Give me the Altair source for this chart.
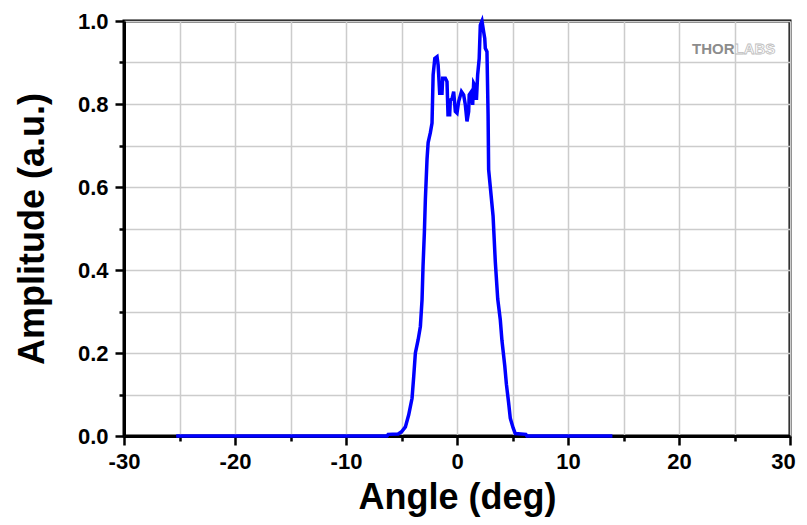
import altair as alt
import pandas as pd

angle = [
    -25.3, -6.3, -6.2, -5.3, -5.0, -4.65, -4.35, -4.05, -3.9, -3.75,
    -3.5, -3.3, -3.15, -3.06, -2.94, -2.85, -2.7, -2.6, -2.4, -2.25,
    -2.15, -2.0, -1.8, -1.7, -1.65, -1.56, -1.35, -1.29, -1.05, -0.9,
    -0.81, -0.66, -0.6, -0.45, -0.3, -0.15, 0.0, 0.15, 0.4, 0.6,
    0.75, 0.9, 1.05, 1.1, 1.3, 1.41, 1.5, 1.66, 1.75, 1.86,
    2.0, 2.1, 2.25, 2.4, 2.5, 2.55, 2.7, 2.8, 2.85, 3.0,
    3.25, 3.45, 3.67, 3.9, 4.05, 4.3, 4.45, 4.65, 4.8, 5.05,
    5.25, 6.2, 6.3, 14,
]
amplitude = [
    0.0, 0.0, 0.004, 0.005, 0.01, 0.022, 0.051, 0.091, 0.143, 0.20,
    0.232, 0.264, 0.328, 0.409, 0.49, 0.57, 0.667, 0.707, 0.731, 0.754,
    0.87, 0.91, 0.914, 0.894, 0.87, 0.826, 0.826, 0.862, 0.862, 0.854,
    0.774, 0.774, 0.81, 0.812, 0.83, 0.782, 0.778, 0.806, 0.83, 0.822,
    0.798, 0.758, 0.782, 0.822, 0.83, 0.798, 0.85, 0.842, 0.81, 0.87,
    0.91, 0.99, 1.0, 0.974, 0.958, 0.934, 0.926, 0.774, 0.642, 0.60,
    0.53, 0.42, 0.33, 0.28, 0.23, 0.17, 0.125, 0.08, 0.043, 0.02,
    0.006, 0.004, 0.0, 0.0,
]

x_ticks = [-30, -25, -20, -15, -10, -5, 0, 5, 10, 15, 20, 25, 30]
y_ticks = [0.0, 0.1, 0.2, 0.3, 0.4, 0.5, 0.6, 0.7, 0.8, 0.9, 1.0]

df = pd.DataFrame({"angle": angle, "amplitude": amplitude})

FONT = "Liberation Sans"

x_axis = alt.Axis(
    values=x_ticks,
    title="Angle (deg)",
    labelExpr="datum.value % 10 === 0 ? ('' + datum.value) : ''",
    tickSize={"condition": {"test": "datum.value % 10 === 0", "value": 9}, "value": 5},
    labelOffset={"condition": {"test": "datum.value === 30", "value": -7}, "value": 0},
    labelPadding=6,
    labelFlush=False,
    labelOverlap=False,
    titleBaseline="alphabetic",
    titleY=72,
)
y_axis = alt.Axis(
    values=y_ticks,
    title="Amplitude (a.u.)",
    labelExpr="round(datum.value * 10) % 2 === 0 ? format(datum.value, '.1f') : ''",
    tickSize={"condition": {"test": "round(datum.value * 10) % 2 === 0", "value": 9}, "value": 5},
    labelPadding=7,
    labelOverlap=False,
    titleBaseline="alphabetic",
    titleX=-81,
)

line = alt.Chart(df).mark_line(color="#0000ff", strokeWidth=3.5, interpolate="linear").encode(
    x=alt.X("angle:Q", scale=alt.Scale(domain=[-30, 30], nice=False, zero=False), axis=x_axis),
    y=alt.Y("amplitude:Q", scale=alt.Scale(domain=[0, 1], nice=False), axis=y_axis),
    order="angle:Q",
)

logo_thor = alt.Chart(pd.DataFrame({"t": ["THOR"]})).mark_text(
    font=FONT, fontSize=15, fontWeight="bold", color="#8c8c8c", align="right", baseline="middle"
).encode(x=alt.datum(25), y=alt.datum(0.933), text="t:N")
logo_labs = alt.Chart(pd.DataFrame({"t": ["LABS"]})).mark_text(
    font=FONT, fontSize=15, fontWeight="bold", color="#ffffff", stroke="#bdbdbd", strokeWidth=0.8,
    align="left", baseline="middle"
).encode(x=alt.datum(25), y=alt.datum(0.933), text="t:N")

chart = alt.layer(line, logo_thor, logo_labs).properties(
    width=666,
    height=415,
    autosize=alt.AutoSizeParams(type="none"),
    padding={"left": 116, "top": 13, "right": 9, "bottom": 81},
).configure_view(
    stroke="black", strokeWidth=3
).configure_axis(
    domainColor="black",
    domainWidth=3,
    tickColor="black",
    tickWidth=2.5,
    grid=True,
    gridColor="#cccccc",
    gridWidth=1.5,
    labelFont=FONT,
    labelFontSize=22,
    labelFontWeight="bold",
    labelColor="black",
    titleFont=FONT,
    titleFontSize=36,
    titleFontWeight="bold",
    titleColor="black",
)

chart.save("out.html", embed_options={"renderer": "svg", "actions": False})
